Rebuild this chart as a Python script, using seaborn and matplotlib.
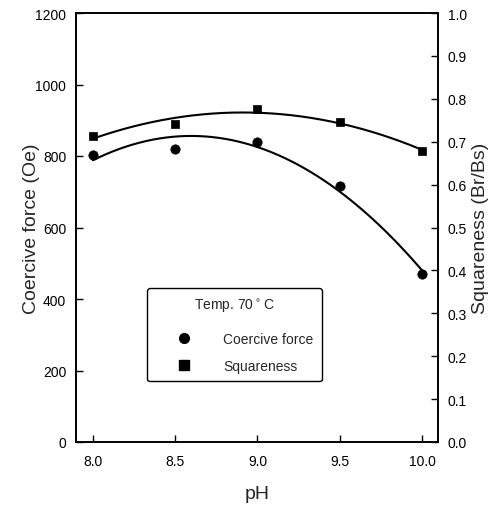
import numpy as np
import pandas as pd
import matplotlib
matplotlib.use("Agg")
import matplotlib.pyplot as plt
from matplotlib.lines import Line2D
import seaborn as sns

ph = [8.0, 8.5, 9.0, 9.5, 10.0]
coercive = [803, 820, 839, 716, 470]
squareness = [0.713, 0.741, 0.776, 0.746, 0.678]
x_ticks = [8.0, 8.5, 9.0, 9.5, 10.0]
y_left_ticks = [0, 200, 400, 600, 800, 1000, 1200]
y_right_ticks = [0.0, 0.1, 0.2, 0.3, 0.4, 0.5, 0.6, 0.7, 0.8, 0.9, 1.0]

sns.set_theme(style="ticks")
plt.rcParams['font.family'] = ['Liberation Sans', 'DejaVu Sans']

fig = plt.figure(figsize=(5.02, 5.06), dpi=100)
ax = fig.add_axes([76/502, 63/506, 362/502, 429/506])
ax2 = ax.twinx()

df = pd.DataFrame({"pH": ph, "Hc": coercive, "SQ": squareness})
xf = np.linspace(8.0, 10.0, 200)
fit_c = np.polyval(np.polyfit(ph, coercive, 2), xf)
fit_s = np.polyval(np.polyfit(ph, squareness, 2), xf)

sns.lineplot(x=xf, y=fit_c, ax=ax, color="black", lw=1.5)
sns.scatterplot(data=df, x="pH", y="Hc", ax=ax, color="black", marker="o", s=45, edgecolor="black", zorder=5)
sns.lineplot(x=xf, y=fit_s, ax=ax2, color="black", lw=1.5)
sns.scatterplot(data=df, x="pH", y="SQ", ax=ax2, color="black", marker="s", s=40, edgecolor="black", zorder=5)

ax.set_xlim(7.897, 10.097)
ax.set_ylim(0, 1200)
ax2.set_ylim(0, 1.0)
ax.set_xticks(x_ticks)
ax.set_xticklabels([f"{v:.1f}" for v in x_ticks])
ax.set_yticks(y_left_ticks)
ax2.set_yticks(y_right_ticks)
ax2.set_yticklabels([f"{v:.1f}" for v in y_right_ticks])

for a in (ax, ax2):
    a.tick_params(direction="in", length=5, width=1, labelsize=10, colors="black", pad=7)
    for s in a.spines.values():
        s.set_linewidth(1.2)
        s.set_color("black")
ax.tick_params(axis="x", pad=9)
ax.set_xlabel("pH", fontsize=14, labelpad=12)
ax.set_ylabel("Coercive force (Oe)", fontsize=14, labelpad=-3.5)
ax2.set_ylabel("Squareness (Br/Bs)", fontsize=14, labelpad=3.5)

handles = [
    Line2D([], [], marker="o", color="black", ls="none", markersize=7),
    Line2D([], [], marker="s", color="black", ls="none", markersize=6.5),
]
leg = ax.legend(handles, ["Coercive force", "Squareness"], title="Temp. 70$^\\circ$C",
                loc="upper left", bbox_to_anchor=(71/362, (443-289)/429), fontsize=10, title_fontsize=10,
                frameon=True, fancybox=True, edgecolor="black", handlelength=4.1,
                handletextpad=0.8, borderpad=0.6, labelspacing=0.95, borderaxespad=0)
leg._legend_box.sep = 13
leg.get_frame().set_linewidth(1.0)
leg.get_frame().set_alpha(1)

fig.savefig("out.png", dpi=100)
